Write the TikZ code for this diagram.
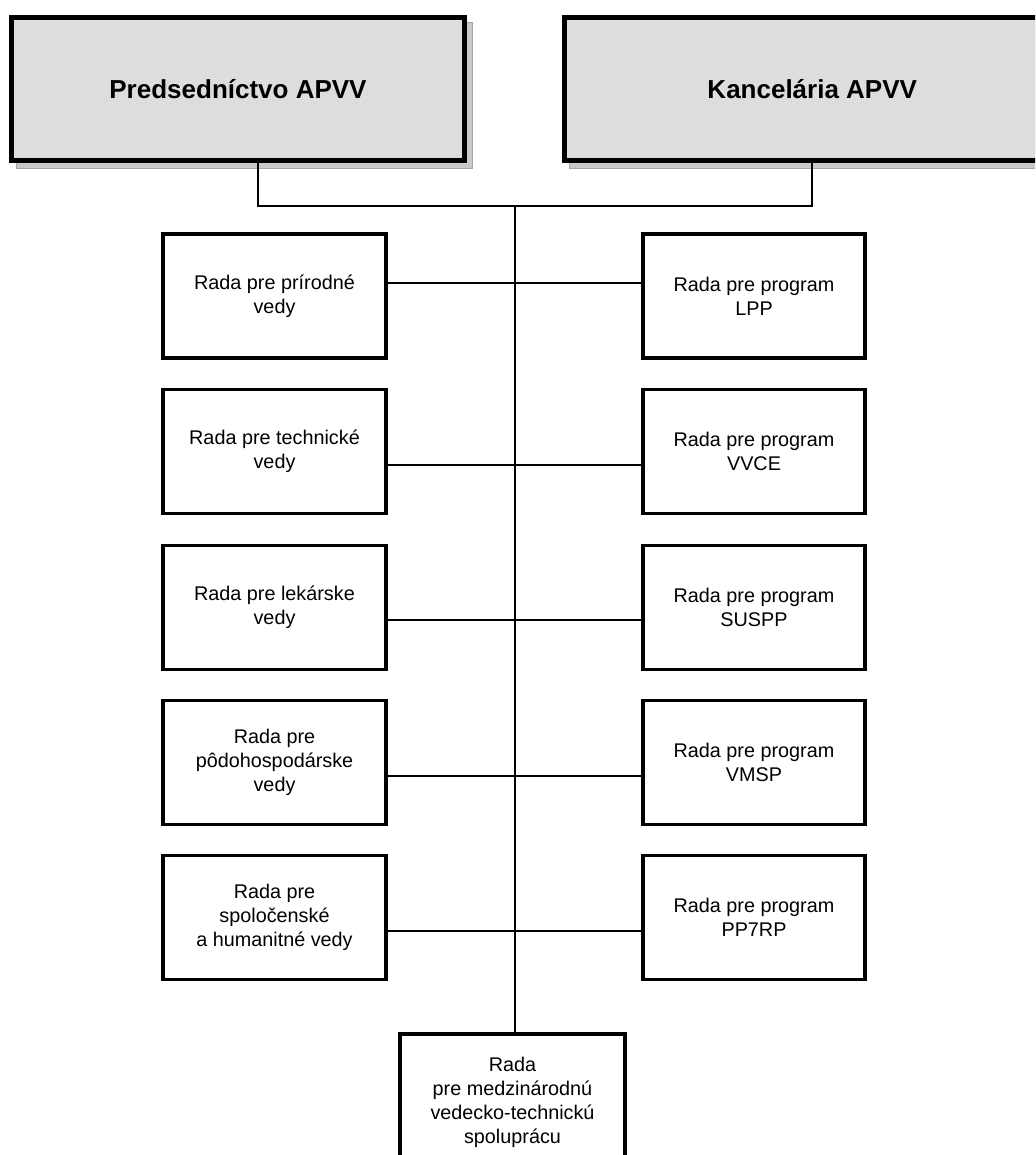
\documentclass[tikz,border=0pt]{standalone}
\usepackage{fontspec}
\setmainfont{Liberation Sans}
\definecolor{topgray}{RGB}{221,221,221}
\definecolor{shadowgray}{RGB}{200,200,200}
\begin{document}
\begin{tikzpicture}[x=1pt,y=-1pt,
  topbox/.style={draw=black,line width=5pt,fill=topgray,minimum height=143pt,
    outer sep=0pt,inner sep=0pt,font=\fontsize{26}{30}\selectfont\bfseries},
  rbox/.style={draw=black,line width=3.5pt,fill=white,minimum height=124pt,
    outer sep=0pt,inner sep=0pt,align=center,font=\fontsize{19.8}{24}\selectfont},
  shadowbox/.style={fill=shadowgray,draw=gray!70,line width=0.6pt},
  conn/.style={draw=black,line width=1.5pt}]
\clip (0,0) rectangle (1035,1155);
\fill[white] (0,0) rectangle (1035,1155);
% shadows of top boxes
\draw[shadowbox] (16,22) rectangle (472,168);
\draw[shadowbox] (569,22) rectangle (1065,168);
% top boxes
\node[topbox,minimum width=453pt] (p) at (238,89) {Predsedníctvo APVV};
\node[topbox,minimum width=495.5pt] (k) at (812.25,89) {Kancelária APVV};
% coordinates of the tree
\coordinate (dl) at (258,206);
\coordinate (dr) at (812,206);
\coordinate (top) at (515,206);
\coordinate (j1) at (515,283);
\coordinate (j2) at (515,465);
\coordinate (j3) at (515,620);
\coordinate (j4) at (515,776);
\coordinate (j5) at (515,931);
% left boxes
\node[rbox,minimum width=223pt] (l1) at (274.5,296) {Rada pre prírodné\\vedy};
\node[rbox,minimum width=223pt] (l2) at (274.5,451.5) {Rada pre technické\\vedy};
\node[rbox,minimum width=223pt] (l3) at (274.5,607.5) {Rada pre lekárske\\vedy};
\node[rbox,minimum width=223pt] (l4) at (274.5,762.5) {Rada pre\\pôdohospodárske\\vedy};
\node[rbox,minimum width=223pt] (l5) at (274.5,917.5) {Rada pre\\spoločenské\\a humanitné vedy};
% right boxes
\node[rbox,minimum width=222pt] (r1) at (754,296) {Rada pre program\\LPP};
\node[rbox,minimum width=222pt] (r2) at (754,451.5) {Rada pre program\\VVCE};
\node[rbox,minimum width=222pt] (r3) at (754,607.5) {Rada pre program\\SUSPP};
\node[rbox,minimum width=222pt] (r4) at (754,762.5) {Rada pre program\\VMSP};
\node[rbox,minimum width=222pt] (r5) at (754,917.5) {Rada pre program\\PP7RP};
% bottom box
\node[rbox,minimum width=225pt,minimum height=136pt] (m) at (512.5,1102)
  {Rada\\pre medzinárodnú\\vedecko-technickú\\spoluprácu};
% connectors
\draw[conn] (p.south -| dl) -- (dl) -- (dr) -- (k.south -| dr);
\draw[conn] (top) -- (m.north -| top);
\draw[conn] (l1.east |- j1) -- (r1.west |- j1);
\draw[conn] (l2.east |- j2) -- (r2.west |- j2);
\draw[conn] (l3.east |- j3) -- (r3.west |- j3);
\draw[conn] (l4.east |- j4) -- (r4.west |- j4);
\draw[conn] (l5.east |- j5) -- (r5.west |- j5);
\end{tikzpicture}
\end{document}
